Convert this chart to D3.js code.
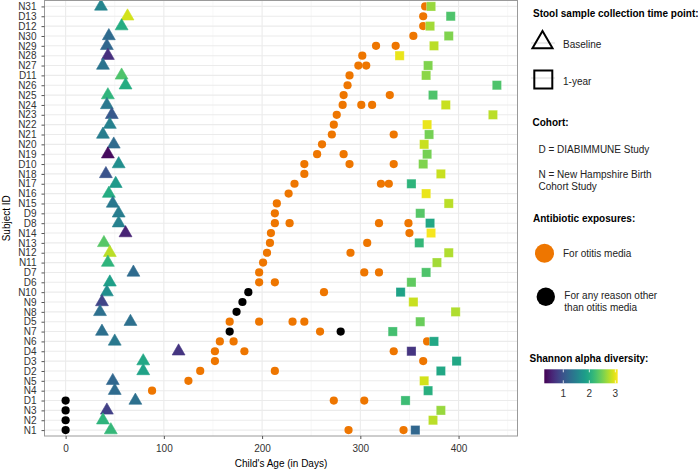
<!DOCTYPE html>
<html>
<head>
<meta charset="utf-8">
<script src="https://cdn.jsdelivr.net/npm/d3@7"></script>
<style>
  html, body { margin: 0; padding: 0; background: #fff; }
  svg { display: block; font-family: "Liberation Sans", Arial, Helvetica, sans-serif; }
</style>
</head>
<body>
<script>
// ---------------- DATA (top-to-bottom order as displayed) ----------------
const subjects = ["N31","D13","D12","N30","N29","N28","N27","D11","N26","N25","N24","N23","N22","N21","N20","N19","D10","N18","N17","N16","N15","D9","D8","N14","N13","N12","N11","D7","D6","N10","N9","N8","D5","N7","N6","D4","D3","D2","N5","N4","D1","N3","N2","N1"];

const baselineDay = [36,63,57,44,42,43,38,57,61,43,42,47,45,38,49,43,54,41,51,44,48,54,54,61,39,45,43,69,45,42,37,35,66,37,50,115,79,79,48,50,71,42,38,46];
const baselineShannon = [1.55,2.9,2.0,1.25,1.2,0.65,1.35,2.3,2.0,2.1,1.4,1.05,1.5,1.45,1.25,0.35,1.65,1.0,1.8,2.0,1.4,1.45,1.5,0.55,2.35,2.8,2.1,1.25,1.85,1.65,0.85,1.3,1.3,1.3,1.4,0.7,1.95,1.9,1.2,1.25,1.3,0.8,2.1,2.15];

const yearDay = [372,392,371,390,375,340,369,367,439,374,387,435,368,370,365,368,364,382,352,367,390,361,371,372,360,390,378,367,352,341,354,397,361,333,375,352,398,382,365,369,346,382,374,356];
const yearShannon = [2.65,2.3,2.7,2.55,2.8,3.0,2.55,2.6,2.3,2.3,2.85,2.8,3.0,2.5,2.85,2.5,2.55,2.85,2.1,3.0,2.8,2.35,1.95,3.05,2.15,2.75,2.7,2.3,2.4,1.9,2.85,2.75,2.45,2.25,1.95,0.7,1.95,1.95,2.9,2.05,2.2,2.65,2.8,1.2];

const otitisDays = [
  [366],[364],[364],[354],[316,336],[302],[298,306],[289],[287],[283,330],
  [282,301,312],[276],[273],[271,334],[261],[256,283],[243,289,334],[243],[233,321,329],[227],
  [215],[213],[213,228,319,349],[209,350],[208,307],[205,290],[201],[197,304,319],[197,213],[263],
  [],[],[167,197,231,243],[259],[157,171,368],[152,182,334],[152,364],[137,213],[125],[88],
  [273,304],[],[],[288,344]
];
const otherDays = [
  [],[],[],[],[],[],[],[],[],[],
  [],[],[],[],[],[],[],[],[],[],
  [],[],[],[],[],[],[],[],[],[186],
  [180],[174],[],[167,280],[],[],[],[],[],[],
  [0],[0],[0],[0]
];

const xTicks = [0,100,200,300,400];
const xMinor = [50,150,250,350,450];
const colorTicks = [1,2,3];

// ---------------- CHART ----------------
const W = 698, H = 470;
const svg = d3.select("body").append("svg").attr("width", W).attr("height", H);

const pL = 44.5, pR = 517.5, pT = 0.5, pB = 436;
const x = d3.scaleLinear().domain([-21.5, 460]).range([pL, pR]);
const y = d3.scalePoint().domain(subjects).range([pT, pB]).padding(0.6);
const color = d3.scaleSequential(d3.interpolateViridis).domain([0.27, 3.09]);
const orange = "#ee7600";

const grid = svg.append("g");
grid.selectAll(".minor").data(xMinor.filter(v => x(v) < pR)).join("line")
  .attr("x1", d => x(d)).attr("x2", d => x(d)).attr("y1", pT).attr("y2", pB)
  .attr("stroke", "#f2f2f2").attr("stroke-width", 0.6);
grid.selectAll(".major").data(xTicks).join("line")
  .attr("x1", d => x(d)).attr("x2", d => x(d)).attr("y1", pT).attr("y2", pB)
  .attr("stroke", "#ebebeb").attr("stroke-width", 1.1);
grid.selectAll(".hmajor").data(subjects).join("line")
  .attr("x1", pL).attr("x2", pR).attr("y1", d => y(d)).attr("y2", d => y(d))
  .attr("stroke", "#ebebeb").attr("stroke-width", 1.1);

// baseline triangles
const tri = d3.symbol(d3.symbolTriangle, 72);
svg.append("g").selectAll("path").data(subjects).join("path")
  .attr("d", tri)
  .attr("transform", (d, i) => `translate(${x(baselineDay[i])},${y(d)})`)
  .attr("fill", (d, i) => color(baselineShannon[i]))
  .attr("stroke", (d, i) => color(baselineShannon[i]))
  .attr("stroke-width", 0.6);

// antibiotic circles
const otitisPts = [], otherPts = [];
subjects.forEach((s, i) => {
  otitisDays[i].forEach(v => otitisPts.push({s, v}));
  otherDays[i].forEach(v => otherPts.push({s, v}));
});
svg.append("g").selectAll("circle").data(otitisPts).join("circle")
  .attr("cx", d => x(d.v)).attr("cy", d => y(d.s)).attr("r", 4.1)
  .attr("fill", orange);
svg.append("g").selectAll("circle").data(otherPts).join("circle")
  .attr("cx", d => x(d.v)).attr("cy", d => y(d.s)).attr("r", 4.1)
  .attr("fill", "#000");

// 1-year squares
svg.append("g").selectAll("rect").data(subjects).join("rect")
  .attr("x", (d, i) => x(yearDay[i]) - 4.6).attr("y", d => y(d) - 4.6)
  .attr("width", 9.2).attr("height", 9.2)
  .attr("fill", (d, i) => color(yearShannon[i]))
  .attr("stroke", "#fff").attr("stroke-opacity", 0.35).attr("stroke-width", 0.8);

// panel border
svg.append("rect").attr("x", pL).attr("y", pT).attr("width", pR - pL).attr("height", pB - pT)
  .attr("fill", "none").attr("stroke", "#9a9a9a").attr("stroke-width", 1);

// axes
const xAxis = svg.append("g").attr("transform", `translate(0,${pB})`)
  .call(d3.axisBottom(x).tickValues(xTicks).tickSize(3).tickPadding(6));
const yAxis = svg.append("g").attr("transform", `translate(${pL},0)`)
  .call(d3.axisLeft(y).tickSize(3).tickPadding(5));
[xAxis, yAxis].forEach(a => {
  a.select(".domain").remove();
  a.selectAll(".tick line").attr("stroke", "#555");
  a.selectAll(".tick text").attr("fill", "#333").attr("font-size", 10)
    .attr("font-family", "'Liberation Sans', Arial, sans-serif");
});

svg.append("text").attr("x", (pL + pR) / 2).attr("y", 467).attr("text-anchor", "middle")
  .attr("font-size", 10).attr("fill", "#000").text("Child's Age (in Days)");
svg.append("text").attr("transform", `translate(10,${(pT + pB) / 2}) rotate(-90)`)
  .attr("text-anchor", "middle").attr("font-size", 10).attr("fill", "#000").text("Subject ID");

// ---------------- LEGEND ----------------
const lg = svg.append("g").attr("font-size", 10).attr("fill", "#000");
function txt(xx, yy, t, bold) {
  lg.append("text").attr("x", xx).attr("y", yy).attr("dy", "0.35em")
    .attr("font-weight", bold ? "bold" : "normal").attr("fill", bold ? "#000" : "#222").text(t);
}
txt(533, 13.5, "Stool sample collection time point:", true);
lg.append("line").attr("x1", 531).attr("x2", 555).attr("y1", 43).attr("y2", 43)
  .attr("stroke", "#ececec").attr("stroke-width", 2);
lg.append("path").attr("d", d3.symbol(d3.symbolTriangle, 175)())
  .attr("transform", "translate(542.5,42.5)").attr("fill", "none")
  .attr("stroke", "#000").attr("stroke-width", 2);
txt(563, 44.5, "Baseline", false);
lg.append("line").attr("x1", 531).attr("x2", 555).attr("y1", 78).attr("y2", 78)
  .attr("stroke", "#ececec").attr("stroke-width", 2);
lg.append("rect").attr("x", 534.3).attr("y", 70.5).attr("width", 18).attr("height", 18)
  .attr("fill", "none").attr("stroke", "#000").attr("stroke-width", 2);
txt(563, 81, "1-year", false);

txt(532.5, 122.5, "Cohort:", true);
txt(538.5, 149.5, "D = DIABIMMUNE Study", false);
txt(538.5, 174.5, "N = New Hampshire Birth", false);
txt(538.5, 186.5, "Cohort Study", false);

txt(533, 218.5, "Antibiotic exposures:", true);
lg.append("circle").attr("cx", 544.5).attr("cy", 253.3).attr("r", 9.5).attr("fill", orange);
txt(563, 253.5, "For otitis media", false);
lg.append("circle").attr("cx", 545.8).attr("cy", 296.8).attr("r", 9.2).attr("fill", "#000");
txt(564.3, 295, "For any reason other", false);
txt(564.3, 307, "than otitis media", false);

txt(529.5, 358.5, "Shannon alpha diversity:", true);

// colorbar
const cbX0 = 544.3, cbX1 = 617.7, cbY = 369.3, cbH = 14;
const defs = svg.append("defs");
const grad = defs.append("linearGradient").attr("id", "vir").attr("x1", "0%").attr("x2", "100%");
d3.range(0, 1.0001, 0.05).forEach(t => {
  grad.append("stop").attr("offset", (t * 100) + "%").attr("stop-color", d3.interpolateViridis(t));
});
svg.append("rect").attr("x", cbX0).attr("y", cbY).attr("width", cbX1 - cbX0).attr("height", cbH)
  .attr("fill", "url(#vir)");
const cb = d3.scaleLinear().domain(color.domain()).range([cbX0, cbX1]);
const cbt = svg.append("g");
colorTicks.forEach(v => {
  cbt.append("line").attr("x1", cb(v)).attr("x2", cb(v)).attr("y1", cbY).attr("y2", cbY + 3)
    .attr("stroke", "#fff").attr("stroke-width", 0.8);
  cbt.append("line").attr("x1", cb(v)).attr("x2", cb(v)).attr("y1", cbY + cbH - 3).attr("y2", cbY + cbH)
    .attr("stroke", "#fff").attr("stroke-width", 0.8);
  cbt.append("text").attr("x", cb(v)).attr("y", 393).attr("dy", "0.35em")
    .attr("text-anchor", "middle").attr("font-size", 10).attr("fill", "#333").text(v);
});
</script>
</body>
</html>
